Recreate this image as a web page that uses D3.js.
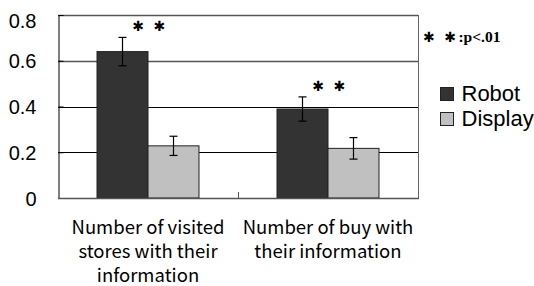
<!DOCTYPE html>
<html>
<head>
<meta charset="utf-8">
<script src="https://cdn.jsdelivr.net/npm/d3@7"></script>
<style>
body { margin:0; background:#fff; }
svg { display:block; }
</style>
</head>
<body>
<svg id="chart" width="534" height="286"></svg>
<script>
// data
var categories = ["Number of visited stores with their information", "Number of buy with their information"];
var categoryLines = [["Number of visited", "stores with their", "information"], ["Number of buy with", "their information"]];
var seriesNames = ["Robot", "Display"];
var robotValues = [0.64, 0.389];
var robotErrors = [0.062, 0.053];
var displayValues = [0.228, 0.217];
var displayErrors = [0.042, 0.047];
var yTicks = [0, 0.2, 0.4, 0.6, 0.8];
var yTickLabels = ["0", "0.2", "0.4", "0.6", "0.8"];
var sigMarks = ["✱ ✱", "✱ ✱"];
var sigNote = ":p<.01";

var colors = {"Robot": "#333333", "Display": "#c0c0c0"};

var svg = d3.select('#chart');
var plotLeft = 58, plotRight = 418, plotTop = 15, plotBottom = 198;

var x0 = d3.scaleBand().domain(categories).range([plotLeft, plotRight]).padding(0);
var x1 = d3.scaleBand().domain(seriesNames).range([0, x0.bandwidth()]).paddingInner(0).paddingOuter(0.765);
var y = d3.scaleLinear().domain([0, 0.8]).range([plotBottom, plotTop]);

var rows = categories.map(function(c, i){
	return {cat: c, values: [
		{name: "Robot", v: robotValues[i], e: robotErrors[i]},
		{name: "Display", v: displayValues[i], e: displayErrors[i]}
	]};
});

// gridlines
svg.append('g').selectAll('line')
	.data(yTicks.filter(function(t){ return t > 0; }))
	.enter().append('line')
	.attr('x1', plotLeft).attr('x2', plotRight)
	.attr('y1', function(t){ return Math.round(y(t)) + 0.5; })
	.attr('y2', function(t){ return Math.round(y(t)) + 0.5; })
	.attr('stroke', function(t){ return t >= 0.6 ? '#555' : '#000'; })
	.attr('stroke-width', function(t){ return t >= 0.6 ? 1.4 : 1; });

// frame right
svg.append('line')
	.attr('x1', plotRight + 0.5).attr('x2', plotRight + 0.5)
	.attr('y1', plotTop).attr('y2', plotBottom)
	.attr('stroke', '#666');

// y axis
var yAxis = d3.axisLeft(y).tickValues(yTicks)
	.tickSizeInner(-5).tickSizeOuter(0).tickPadding(22)
	.tickFormat(function(d, i){ return yTickLabels[i]; });
var yg = svg.append('g').attr('transform', 'translate(' + (plotLeft + 0.5) + ',0)').call(yAxis);
yg.select('.domain').attr('stroke', '#000');
yg.selectAll('.tick line').attr('stroke', '#000');
yg.selectAll('.tick text')
	.attr('font-family', 'Liberation Sans, Arial, sans-serif')
	.attr('font-size', 20)
	.attr('fill', '#000')
	.attr('dy', function(d){ return d === 0.8 ? '0.6em' : '0.35em'; });

// bars
var groups = svg.append('g').selectAll('g')
	.data(rows).enter()
	.append('g')
	.attr('transform', function(r){ return 'translate(' + x0(r.cat) + ',0)'; });

groups.selectAll('rect')
	.data(function(r){ return r.values; })
	.enter().append('rect')
	.attr('x', function(d){ return x1(d.name); })
	.attr('y', function(d){ return y(d.v); })
	.attr('width', x1.bandwidth())
	.attr('height', function(d){ return plotBottom - y(d.v); })
	.attr('fill', function(d){ return colors[d.name]; })
	.attr('stroke', '#222')
	.attr('stroke-width', 1);

// error bars
var err = groups.selectAll('g.err')
	.data(function(r){ return r.values; })
	.enter().append('g')
	.attr('class', 'err')
	.attr('stroke', '#000')
	.attr('stroke-width', 1.2);
err.append('line')
	.attr('x1', function(d){ return x1(d.name) + x1.bandwidth()/2; })
	.attr('x2', function(d){ return x1(d.name) + x1.bandwidth()/2; })
	.attr('y1', function(d){ return y(d.v + d.e); })
	.attr('y2', function(d){ return y(d.v - d.e); });
err.selectAll('line.cap')
	.data(function(d){ return [d.v + d.e, d.v - d.e].map(function(v){ return {name: d.name, v: v}; }); })
	.enter().append('line')
	.attr('class', 'cap')
	.attr('x1', function(d){ return x1(d.name) + x1.bandwidth()/2 - 4; })
	.attr('x2', function(d){ return x1(d.name) + x1.bandwidth()/2 + 4; })
	.attr('y1', function(d){ return y(d.v); })
	.attr('y2', function(d){ return y(d.v); });

// significance marks
groups.append('text')
	.attr('x', x0.bandwidth()/2 + 2)
	.attr('y', function(r, i){ return y(robotValues[i] + robotErrors[i]) - 6; })
	.attr('text-anchor', 'middle')
	.attr('font-family', 'DejaVu Sans, sans-serif')
	.attr('font-size', 14)
	.attr('letter-spacing', 2.5)
	.text(function(r, i){ return sigMarks[i]; });

// x axis
svg.append('line')
	.attr('x1', plotLeft).attr('x2', plotRight + 1)
	.attr('y1', plotBottom + 0.5).attr('y2', plotBottom + 0.5)
	.attr('stroke', '#555').attr('stroke-width', 1.5);
svg.append('g').selectAll('line')
	.data(categories.slice(1))
	.enter().append('line')
	.attr('x1', function(c){ return Math.round(x0(c)) + 0.5; })
	.attr('x2', function(c){ return Math.round(x0(c)) + 0.5; })
	.attr('y1', plotBottom - 6).attr('y2', plotBottom)
	.attr('stroke', '#555');

// category labels
var lab = svg.append('g').selectAll('text')
	.data(rows).enter()
	.append('text')
	.attr('text-anchor', 'middle')
	.attr('font-family', 'Noto Sans CJK JP, sans-serif')
	.attr('font-size', 18.5)
	.attr('fill', '#000');
lab.selectAll('tspan')
	.data(function(r, i){ return categoryLines[i].map(function(t){ return {t: t, cat: r.cat}; }); })
	.enter().append('tspan')
	.attr('x', function(d){ return x0(d.cat) + x0.bandwidth()/2; })
	.attr('y', function(d, i){ return 234 + i*24; })
	.text(function(d){ return d.t; });

// legend
var note = svg.append('text').attr('x', 423).attr('y', 42);
note.append('tspan')
	.attr('font-family', 'DejaVu Sans, sans-serif')
	.attr('font-size', 14)
	.attr('letter-spacing', 2.5)
	.text(sigMarks[0]);
note.append('tspan')
	.attr('dx', 0)
	.attr('font-family', 'Liberation Serif, Times New Roman, serif')
	.attr('font-weight', 'bold')
	.attr('font-size', 15.5)
	.text(sigNote);

var leg = svg.append('g').selectAll('g')
	.data(seriesNames).enter()
	.append('g')
	.attr('transform', function(d, i){ return 'translate(440.5,' + (87.5 + i*25) + ')'; });
leg.append('rect')
	.attr('width', 13).attr('height', 13)
	.attr('fill', function(d){ return colors[d]; })
	.attr('stroke', '#222');
leg.append('text')
	.attr('x', 21).attr('y', 13.5)
	.attr('font-family', 'Liberation Sans, Arial, sans-serif')
	.attr('font-size', 22)
	.text(function(d){ return d; });
</script>
</body>
</html>
